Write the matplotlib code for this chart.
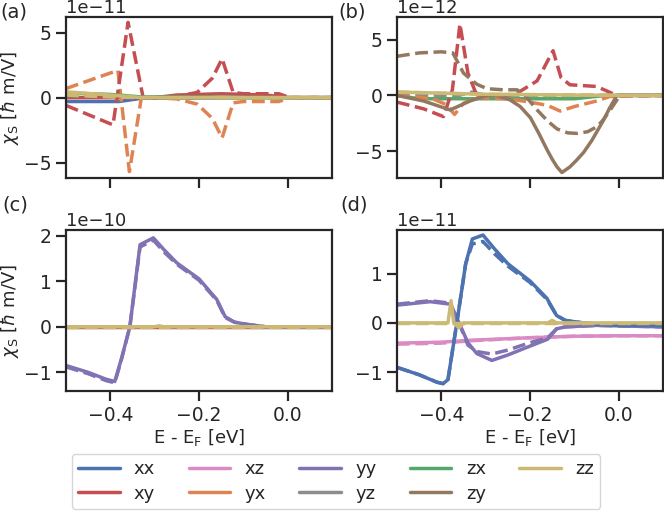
import numpy as np
import matplotlib.pyplot as plt
import seaborn as sns
from matplotlib.lines import Line2D

# --- style ---
sns.set_theme(style="ticks", palette="deep")
plt.rcParams.update({'font.family': 'DejaVu Sans', 'font.size': 13,
                     'xtick.labelsize': 13.5, 'ytick.labelsize': 13.5,
                     'axes.labelsize': 13, 'axes.linewidth': 1.6})

components = ['xx', 'xy', 'xz', 'yx', 'yy', 'yz', 'zx', 'zy', 'zz']
comp_colors = {'xx': '#4c72b0', 'xy': '#c44e52', 'xz': '#da8bc3',
               'yx': '#dd8452', 'yy': '#8172b3', 'yz': '#8c8c8c',
               'zx': '#55a868', 'zy': '#937860', 'zz': '#ccb974'}

flat_E = [-0.5, 0.1]
flat_v = [0.0, 0.0]

# --- panel (a), units of 1e-11 ---
a_xy_dash_E = [-0.5, -0.394, -0.36, -0.326, -0.30, -0.25, -0.204, -0.17, -0.148, -0.123, -0.10, -0.02, 0.005, 0.1]
a_xy_dash_v = [-0.6, -2.1, 5.8, 0.0, 0.0, 0.1, 0.4, 1.5, 3.0, 0.4, 0.3, 0.3, 0.0, 0.0]
a_yx_dash_E = [-0.5, -0.383, -0.357, -0.33, -0.30, -0.25, -0.204, -0.17, -0.148, -0.123, -0.10, -0.02, 0.005, 0.1]
a_yx_dash_v = [0.7, 2.1, -5.7, 0.0, 0.0, -0.1, -0.5, -1.6, -3.1, -0.4, -0.3, -0.3, 0.0, 0.0]
a_xy_E = [-0.5, -0.3, -0.25, -0.15, -0.05, 0.0, 0.1]
a_xy_v = [0.0, 0.0, 0.2, 0.3, 0.2, 0.0, 0.0]
a_zx_E = [-0.5, -0.4, -0.33, -0.2, 0.0, 0.1]
a_zx_v = [0.35, 0.25, 0.05, 0.05, 0.0, 0.0]
a_xx_E = [-0.5, -0.38, -0.33, 0.0, 0.1]
a_xx_v = [-0.3, -0.3, -0.05, 0.0, 0.0]
a_zy_dash_E = [-0.5, -0.4, -0.33, 0.1]
a_zy_dash_v = [0.1, 0.1, 0.0, 0.0]
a_zz_E = [-0.5, -0.4, -0.33, 0.1]
a_zz_v = [0.45, 0.2, 0.0, 0.0]
a_zz_dash_v = [0.2, 0.05, 0.0, 0.0]

# --- panel (b), units of 1e-12 ---
b_zy_dash_E = [-0.5, -0.45, -0.40, -0.374, -0.35, -0.32, -0.297, -0.26, -0.229, -0.205, -0.184, -0.16, -0.139,
               -0.115, -0.094, -0.07, -0.049, -0.035, -0.019, 0.003, 0.1]
b_zy_dash_v = [3.5, 3.8, 3.9, 3.8, 2.0, 1.0, 0.6, 0.5, 0.5, -0.3, -1.3, -2.3, -3.0,
               -3.35, -3.4, -3.25, -2.8, -2.2, -1.3, 0.0, 0.0]
b_zy_E = [-0.5, -0.44, -0.38, -0.335, -0.297, -0.275, -0.245, -0.222, -0.199, -0.18, -0.161, -0.15, -0.139,
          -0.128, -0.11, -0.095, -0.079, -0.06, -0.034, -0.02, -0.004, 0.1]
b_zy_v = [0.0, -0.5, -1.3, -0.5, 0.0, 0.0, -0.4, -1.0, -2.0, -3.4, -4.9, -5.7, -6.4,
          -6.9, -6.4, -5.8, -5.1, -4.0, -2.2, -1.1, 0.0, 0.0]
b_xy_dash_E = [-0.5, -0.44, -0.395, -0.375, -0.358, -0.34, -0.32, -0.25, -0.229, -0.184, -0.148, -0.13, -0.11, -0.05, -0.004, 0.1]
b_xy_dash_v = [-0.6, -1.2, -1.9, 0.5, 6.4, 2.0, 0.0, 0.0, 0.2, 1.3, 4.0, 1.6, 0.95, 0.8, 0.0, 0.0]
b_yx_dash_E = [-0.5, -0.42, -0.39, -0.37, -0.35, -0.32, -0.25, -0.20, -0.16, -0.132, -0.10, -0.05, -0.02, 0.1]
b_yx_dash_v = [0.0, -0.3, -0.8, -1.7, -0.7, -0.2, -0.3, -0.6, -0.9, -1.4, -1.0, -0.5, -0.1, 0.0]
b_zx_E = [-0.5, -0.45, -0.1, -0.03, 0.1]
b_zx_v = [0.0, -0.3, -0.3, 0.0, 0.0]
b_yz_dash_E = [-0.5, -0.36, -0.33, -0.30, 0.1]
b_yz_dash_v = [0.0, 0.0, 0.3, 0.0, 0.0]
b_zz_E = [-0.5, -0.3, 0.0, 0.1]
b_zz_v = [0.3, 0.1, 0.0, 0.0]

# --- panel (c), units of 1e-10 ---
c_yy_E = [-0.5, -0.45, -0.41, -0.39, -0.375, -0.356, -0.333, -0.303, -0.28, -0.25, -0.20, -0.16, -0.141, -0.12, -0.09, -0.05, 0.0, 0.1]
c_yy_v = [-0.85, -1.0, -1.15, -1.2, -0.7, 0.0, 1.8, 1.95, 1.7, 1.4, 1.05, 0.6, 0.22, 0.1, 0.05, 0.0, 0.0, 0.0]
c_yy_dash_v = [-0.88, -1.03, -1.18, -1.23, -0.72, 0.0, 1.75, 1.9, 1.65, 1.37, 1.02, 0.58, 0.2, 0.1, 0.05, 0.0, 0.0, 0.0]
c_zz_E = [-0.5, -0.3, -0.29, -0.28, 0.1]
c_zz_v = [0.0, 0.0, 0.02, 0.0, 0.0]

# --- panel (d), units of 1e-11 ---
d_xx_E = [-0.5, -0.45, -0.41, -0.396, -0.385, -0.365, -0.345, -0.33, -0.306, -0.28, -0.25, -0.20, -0.162, -0.14, -0.12, -0.08, 0.0, 0.1]
d_xx_v = [-0.9, -1.05, -1.2, -1.23, -1.15, 0.0, 1.2, 1.7, 1.78, 1.5, 1.2, 0.85, 0.5, 0.15, 0.05, 0.0, -0.05, -0.05]
d_xx_dash_v = [-0.9, -1.05, -1.2, -1.23, -1.15, 0.0, 1.2, 1.6, 1.65, 1.4, 1.15, 0.82, 0.48, 0.15, 0.05, 0.0, -0.05, -0.05]
d_yy_E = [-0.5, -0.425, -0.38, -0.36, -0.34, -0.32, -0.286, -0.25, -0.20, -0.16, -0.14, -0.12, -0.05, 0.1]
d_yy_v = [0.36, 0.43, 0.38, 0.0, -0.4, -0.62, -0.76, -0.65, -0.47, -0.33, -0.12, -0.08, -0.05, -0.08]
d_yy_dash_v = [0.38, 0.45, 0.4, 0.0, -0.45, -0.58, -0.63, -0.55, -0.4, -0.3, -0.12, -0.08, -0.05, -0.08]
d_xz_E = [-0.5, -0.4, -0.33, -0.2, -0.1, 0.0, 0.1]
d_xz_v = [-0.41, -0.39, -0.35, -0.3, -0.27, -0.26, -0.26]
d_xz_dash_v = [-0.43, -0.41, -0.36, -0.3, -0.27, -0.26, -0.26]
d_zz_E = [-0.5, -0.385, -0.378, -0.372, -0.36, -0.35, -0.16, -0.15, -0.14, 0.1]
d_zz_v = [0.0, 0.0, 0.45, 0.0, -0.1, 0.0, 0.0, 0.05, 0.0, 0.0]

panel_scale = {'a': 1e-11, 'b': 1e-12, 'c': 1e-10, 'd': 1e-11}
panel_ylim = {'a': (-6.2, 6.2), 'b': (-7.4, 7.0), 'c': (-1.41, 2.12), 'd': (-1.38, 1.88)}
panel_yticks = {'a': [-5, 0, 5], 'b': [-5, 0, 5], 'c': [-1, 0, 1, 2], 'd': [-1, 0, 1]}

# (component, linestyle, E, values) per panel; anything missing is ~0
panel_curves = {
    'a': [('xx', '-', a_xx_E, a_xx_v), ('xy', '-', a_xy_E, a_xy_v),
          ('yx', '--', a_yx_dash_E, a_yx_dash_v), ('xy', '--', a_xy_dash_E, a_xy_dash_v),
          ('zx', '-', a_zx_E, a_zx_v), ('zy', '--', a_zy_dash_E, a_zy_dash_v),
          ('zz', '-', a_zz_E, a_zz_v), ('zz', '--', a_zz_E, a_zz_dash_v)],
    'b': [('zx', '-', b_zx_E, b_zx_v), ('yz', '--', b_yz_dash_E, b_yz_dash_v),
          ('yx', '--', b_yx_dash_E, b_yx_dash_v), ('xy', '--', b_xy_dash_E, b_xy_dash_v),
          ('zy', '-', b_zy_E, b_zy_v), ('zy', '--', b_zy_dash_E, b_zy_dash_v),
          ('zz', '-', b_zz_E, b_zz_v), ('zz', '--', b_zz_E, b_zz_v)],
    'c': [('xy', '-', flat_E, flat_v), ('yy', '-', c_yy_E, c_yy_v), ('yy', '--', c_yy_E, c_yy_dash_v),
          ('zz', '-', c_zz_E, c_zz_v), ('zz', '--', flat_E, flat_v)],
    'd': [('xz', '-', d_xz_E, d_xz_v), ('xz', '--', d_xz_E, d_xz_dash_v),
          ('yy', '-', d_yy_E, d_yy_v), ('yy', '--', d_yy_E, d_yy_dash_v),
          ('xx', '-', d_xx_E, d_xx_v), ('xx', '--', d_xx_E, d_xx_dash_v),
          ('zz', '-', d_zz_E, d_zz_v), ('zz', '--', flat_E, flat_v)],
}

fig, axes = plt.subplots(2, 2, figsize=(6.64, 5.2), dpi=100)
fig.subplots_adjust(left=0.0994, right=0.9985, top=0.967, bottom=0.248,
                    wspace=0.244, hspace=0.323)

for ax, key in zip(axes.flat, ['a', 'b', 'c', 'd']):
    scale = panel_scale[key]
    for comp, ls, E, v in panel_curves[key]:
        ax.plot(E, np.array(v) * scale, color=comp_colors[comp], linestyle=ls, linewidth=2.5)
    ax.set_xlim(-0.5, 0.1)
    lo, hi = panel_ylim[key]
    ax.set_ylim(lo * scale, hi * scale)
    ax.set_yticks(np.array(panel_yticks[key]) * scale)
    ax.set_xticks([-0.4, -0.2, 0.0])
    ax.tick_params(width=1.6, length=7)
    ax.yaxis.get_offset_text().set_fontsize(13)

for ax in axes[0]:
    ax.set_xticklabels([])
for ax in axes[1]:
    ax.set_xlabel(r'E - E$_\mathrm{F}$ [eV]', labelpad=2)
for ax in axes[:, 0]:
    ax.set_ylabel(r'$\chi_\mathrm{S}$ [$\hbar$ m/V]', labelpad=2)

for label, x, y in [('(a)', 0.0, 0.977), ('(b)', 0.51, 0.977), ('(c)', 0.004, 0.606), ('(d)', 0.512, 0.606)]:
    fig.text(x, y, label, fontsize=14, va='center', ha='left')

handles = [Line2D([], [], color=comp_colors[c], linewidth=2.5) for c in components]
fig.legend(handles, components, ncol=5, loc='lower center', bbox_to_anchor=(0.506, 0.004),
           fontsize=13, handlelength=2.3, handletextpad=0.8, columnspacing=1.85,
           labelspacing=0.35, borderpad=0.35, frameon=True)

plt.savefig('out.png', dpi=100)
